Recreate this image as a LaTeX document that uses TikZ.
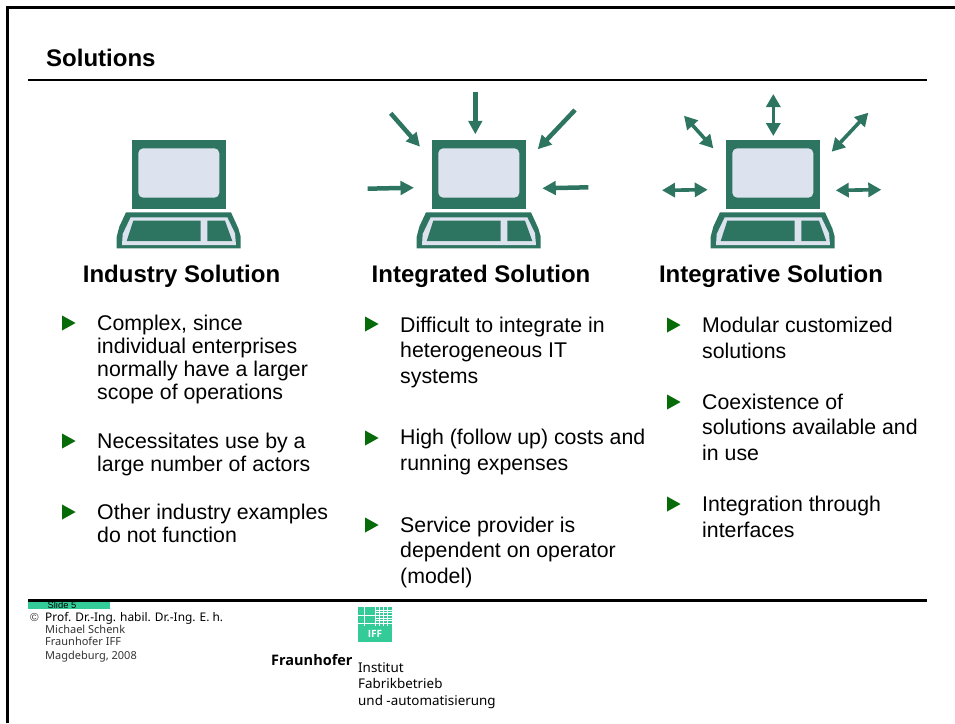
\documentclass[tikz,border=0pt]{standalone}
\usepackage{fontspec}
\setmainfont{Liberation Sans}
\newfontfamily\footfont{Noto Sans}
\newfontfamily\footbold{Open Sans}
\usetikzlibrary{arrows.meta,shapes.geometric}

\definecolor{pcgreen}{HTML}{2E7561}
\definecolor{pclight}{HTML}{DDE3EE}
\definecolor{iffgreen}{HTML}{33CC99}
\definecolor{bulletgreen}{HTML}{086B0A}

\tikzset{
  heading/.style={inner sep=0pt, font=\fontsize{24}{28}\selectfont\bfseries},
  itema/.style={anchor=base west, inner sep=0pt, align=left, font=\fontsize{21.3}{23}\selectfont},
  itemb/.style={anchor=base west, inner sep=0pt, align=left, font=\fontsize{21.3}{25.4}\selectfont},
  marker/.style={isosceles triangle, isosceles triangle stretches, fill=bulletgreen,
                 inner sep=0pt, minimum width=15pt, minimum height=13.5pt},
  foot/.style={anchor=base west, inner sep=0pt, text=black!80, font=\footfont\fontsize{11}{14}\selectfont},
  inarrow/.style={pcgreen, line width=4.5pt, -{Triangle[length=13.5pt,width=13.5pt]}},
  twoarrow/.style={pcgreen, line width=3.6pt, {Triangle[length=13pt,width=14pt]}-{Triangle[length=13pt,width=14pt]}}
}

% one computer, origin at the top left of the monitor
\newcommand{\drawcomputer}{%
  \fill[pcgreen] (0,0) rectangle (94,69);
  \fill[pclight, rounded corners=5pt] (6.3,8.3) rectangle (87.3,57.7);
  \fill[pcgreen] (-6,72.3) -- (-12.7,86.7) -- (-15.3,96.7) -- (-15.3,108.3)
    -- (108.7,108.3) -- (108.7,96.7) -- (106.3,88.3) -- (99,72.3) -- cycle;
  \fill[pclight] (-1.3,77.3) -- (-9.3,94) -- (-10,105) -- (104,105)
    -- (103,93.3) -- (95.3,77.3) -- cycle;
  \fill[pcgreen] (1.3,80.7) -- (-5.3,101) -- (68.7,101) -- (68.7,80.7) -- cycle;
  \fill[pcgreen] (75.3,80.7) -- (75.3,101) -- (100.3,101) -- (93,80.7) -- cycle;
}

\begin{document}
\begin{tikzpicture}[x=1pt, y=-1pt]
  \useasboundingbox (0,0) rectangle (955,723);

  % ---- Frame and rules ----------------------------------------
  \draw[line width=2.6pt] (7.5,723) -- (7.5,7.5) -- (955,7.5);
  \draw[line width=2pt] (28,80) -- (927,80);
  \draw[line width=3pt] (28,600.7) -- (927,600.7);

  \node[anchor=base west, inner sep=0pt, font=\fontsize{24}{28}\selectfont\bfseries] (title) at (46,66) {Solutions};

  % ---- Computers ----------------------------------------------
  \begin{scope}[shift={(132,140)}]
    \drawcomputer
  \end{scope}
  \begin{scope}[shift={(432,140)}]
    \drawcomputer
  \end{scope}
  \begin{scope}[shift={(726,140)}]
    \drawcomputer
  \end{scope}

  % ---- Arrows into the second computer ------------------------
  \coordinate (inNa) at (475.3,91.7);   \coordinate (inNb) at (475.3,134.3);
  \coordinate (inNWa) at (390.7,113.3); \coordinate (inNWb) at (420,146.7);
  \coordinate (inNEa) at (575,110);     \coordinate (inNEb) at (537.7,149.3);
  \coordinate (inWa) at (367.7,188.7);  \coordinate (inWb) at (414,187.7);
  \coordinate (inEa) at (588.3,187.3);  \coordinate (inEb) at (542.3,188.3);
  \draw[inarrow] (inNa) -- (inNb);
  \draw[inarrow] (inNWa) -- (inNWb);
  \draw[inarrow] (inNEa) -- (inNEb);
  \draw[inarrow] (inWa) -- (inWb);
  \draw[inarrow] (inEa) -- (inEb);

  % ---- Arrows around the third computer -----------------------
  \coordinate (outNa) at (773.3,94);     \coordinate (outNb) at (773.3,136);
  \coordinate (outNWa) at (684,115.7);   \coordinate (outNWb) at (713.3,148.3);
  \coordinate (outNEa) at (868.3,112.7); \coordinate (outNEb) at (831.7,151.7);
  \coordinate (outWa) at (662,190.3);    \coordinate (outWb) at (707.7,189.7);
  \coordinate (outEa) at (835.7,190.3);  \coordinate (outEb) at (881.3,189.7);
  \draw[twoarrow] (outNa) -- (outNb);
  \draw[twoarrow] (outNWa) -- (outNWb);
  \draw[twoarrow] (outNEa) -- (outNEb);
  \draw[twoarrow] (outWa) -- (outWb);
  \draw[twoarrow] (outEa) -- (outEb);

  % ---- Headings -----------------------------------------------
  \node[heading] (industry)    at (181.5,276) {Industry Solution};
  \node[heading] (integrated)  at (481,276)   {Integrated Solution};
  \node[heading] (integrative) at (771,276)   {Integrative Solution};

  % ---- First column -------------------------------------------
  \node[marker] (marka) at (66.5,323) {};
  \node[itema] (texta) at (97,399) {Complex, since\\individual enterprises\\normally have a larger\\scope of operations};
  \node[marker] (markb) at (66.5,441) {};
  \node[itema] (textb) at (97,471) {Necessitates use by a\\large number of actors};
  \node[marker] (markc) at (66.5,512) {};
  \node[itema] (textc) at (97,542) {Other industry examples\\do not function};

  % ---- Second column ------------------------------------------
  \node[marker] (markd) at (369.5,324) {};
  \node[itemb] (textd) at (400,383) {Difficult to integrate in\\heterogeneous IT\\systems};
  \node[marker] (marke) at (369.5,438) {};
  \node[itemb] (texte) at (400,470) {High (follow up) costs and\\running expenses};
  \node[marker] (markf) at (369.5,525) {};
  \node[itemb] (textf) at (400,583) {Service provider is\\dependent on operator\\(model)};

  % ---- Third column -------------------------------------------
  \node[marker] (markg) at (671.5,325) {};
  \node[itemb] (textg) at (702,358) {Modular customized\\solutions};
  \node[marker] (markh) at (671.5,402) {};
  \node[itemb] (texth) at (702,460) {Coexistence of\\solutions available and\\in use};
  \node[marker] (marki) at (671.5,504) {};
  \node[itemb] (texti) at (702,537) {Integration through\\interfaces};

  % ---- Footer -------------------------------------------------
  \fill[iffgreen] (28,602) rectangle (110,609);
  \node[inner sep=0pt, font=\fontsize{9.4}{9}\selectfont] (slide) at (62,605) {Slide 5};
  \node[foot, font=\fontsize{11.6}{14}\selectfont] (copy) at (30,621) {©};
  \node[foot, text=black, font=\footfont\fontsize{11.9}{14}\selectfont] (prof) at (45,621) {Prof. Dr.-Ing. habil. Dr.-Ing. E. h.};
  \node[foot] (schenk) at (45,633) {Michael Schenk};
  \node[foot] (iff) at (45,645) {Fraunhofer IFF};
  \node[foot] (magd) at (45,659) {Magdeburg, 2008};

  % ---- Logo ---------------------------------------------------
  \fill[iffgreen] (357.7,606.7) rectangle (391.7,641.7);
  \draw[white, line width=0.6pt]
    (357.7,615) -- (391.7,615) (357.7,623.5) -- (391.7,623.5)
    (364,606.7) -- (364,626) (375,606.7) -- (375,626)
    (379,606.7) -- (379,626) (383,606.7) -- (383,626) (387,606.7) -- (387,626)
    (375,610) -- (391.7,610) (375,612.5) -- (391.7,612.5)
    (375,618) -- (391.7,618) (375,620.5) -- (391.7,620.5);
  \node[inner sep=0pt, text=white, font=\footbold\fontsize{10}{10}\selectfont\bfseries] (ifflogo) at (375,633.5) {IFF};
  \node[anchor=base west, inner sep=0pt, font=\footbold\fontsize{14.5}{16}\selectfont\bfseries] (fraun) at (271,665) {Fraunhofer};
  \node[anchor=base west, inner sep=0pt, align=left, font=\footfont\fontsize{13.4}{16.2}\selectfont] (inst) at (358,705) {Institut\\Fabrikbetrieb\\und -automatisierung};
\end{tikzpicture}
\end{document}
